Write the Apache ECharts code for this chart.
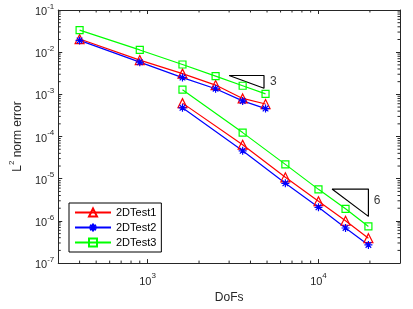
<!DOCTYPE html>
<html><head><meta charset="utf-8">
<script src="https://cdn.jsdelivr.net/npm/echarts@6/dist/echarts.min.js"></script>
<style>html,body{margin:0;padding:0;background:#fff}#c{width:413px;height:309px}</style>
</head><body><div id="c"></div>
<script>
// ---- data ----
const dofsCoarse = [400, 900, 1600, 2500, 3600, 4900];
const dofsFine = [1600, 3600, 6400, 10000, 14400, 19600];
const test1Coarse = [0.0205, 0.0065, 0.0031, 0.00166, 0.00080, 0.00059];
const test2Coarse = [0.0190, 0.0058, 0.0025, 0.00136, 0.00070, 0.00046];
const test3Coarse = [0.0334, 0.0113, 0.0051, 0.0027, 0.0016, 0.00103];
const test1Fine = [0.00062, 6.4e-5, 1.08e-5, 2.93e-6, 1.01e-6, 3.9e-7];
const test2Fine = [0.00048, 4.6e-5, 7.8e-6, 2.1e-6, 6.8e-7, 2.7e-7];
const test3Fine = [0.00129, 1.24e-4, 2.19e-5, 5.6e-6, 1.94e-6, 7.4e-7];
const slope3Tri = [[3000, 0.0028], [4800, 0.0028], [4800, 0.0014], [3000, 0.0028]];
const slope6Tri = [[12000, 5.7e-6], [19600, 5.7e-6], [19600, 1.28e-6], [12000, 5.7e-6]];
const slopeLabels = [{ value: [5450, 0.00195], text: '3' }, { value: [22000, 3.1e-6], text: '6' }];
const seriesNames = ['2DTest1', '2DTest2', '2DTest3'];
const xRange = [300, 30000];
const yRange = [1e-7, 1e-1];

const FONT = '"Liberation Sans", Arial, Helvetica, sans-serif';
const AX = '#262626';
const zip = (xs, ys) => xs.map((x, i) => [x, ys[i]]);

// minor tick positions (2..9 per decade)
function minorTicks(lo, hi) {
  const out = [];
  for (let e = Math.floor(Math.log10(lo)); e <= Math.ceil(Math.log10(hi)); e++) {
    for (let m = 2; m <= 9; m++) {
      const v = m * Math.pow(10, e);
      if (v > lo * 1.0001 && v < hi * 0.9999) out.push(v);
    }
  }
  return out;
}
const xMinor = minorTicks(xRange[0], xRange[1]);
const yMinor = minorTicks(yRange[0], yRange[1]);

const richSup = {
  b: { fontSize: 11, fontFamily: FONT, color: AX, lineHeight: 15, verticalAlign: 'bottom' },
  s: { fontSize: 8, fontFamily: FONT, color: AX, lineHeight: 15, verticalAlign: 'top' }
};
const powLabel = v => '{b|10}{s|' + Math.round(Math.log10(v)) + '}';

const red = { name: '2DTest1', color: '#FF0000', symbol: 'triangle', size: 9 };
const blue = { name: '2DTest2', color: '#0000FF',
  symbol: 'path://M0,-5L0,5M-5,0L5,0M-3.5,-3.5L3.5,3.5M-3.5,3.5L3.5,-3.5', size: 8 };
const green = { name: '2DTest3', color: '#00FF00', symbol: 'rect', size: 7 };

function lineSeries(st, data) {
  return {
    type: 'line', name: st.name, data: data, symbol: st.symbol, symbolSize: st.size,
    showSymbol: true, lineStyle: { color: st.color, width: 1.2 },
    itemStyle: { color: 'rgba(0,0,0,0)', borderColor: st.color, borderWidth: 1.2 },
    emphasis: { disabled: true }, animation: false, z: 3
  };
}

function tickSeries(data, isX) {
  return {
    type: 'custom', silent: true, animation: false, clip: false, z: 5,
    data: data.map(v => isX ? [v, 1e-4] : [1000, v]),
    renderItem: function (params, api) {
      const cs = params.coordSys;
      const p = api.coord([api.value(0), api.value(1)]);
      const L = 2.5;
      let lines;
      if (isX) {
        const x = p[0];
        lines = [[x, cs.y + cs.height, x, cs.y + cs.height - L], [x, cs.y, x, cs.y + L]];
      } else {
        const y = p[1];
        lines = [[cs.x, y, cs.x + L, y], [cs.x + cs.width, y, cs.x + cs.width - L, y]];
      }
      return { type: 'group', children: lines.map(l => ({
        type: 'line', shape: { x1: l[0], y1: l[1], x2: l[2], y2: l[3] },
        style: { stroke: AX, lineWidth: 1 } })) };
    }
  };
}

const chart = echarts.init(document.getElementById('c'), null, { renderer: 'canvas' });
chart.setOption({
  backgroundColor: '#fff',
  animation: false,
  textStyle: { fontFamily: FONT },
  grid: { left: 58, right: 13, top: 10, bottom: 45, containLabel: false },
  xAxis: [{
    type: 'log', min: xRange[0], max: xRange[1], logBase: 10,
    name: 'DoFs', nameLocation: 'middle', nameGap: 27,
    nameTextStyle: { fontSize: 12, color: AX, fontFamily: FONT },
    axisLine: { show: true, lineStyle: { color: AX, width: 1 } },
    axisTick: { show: true, inside: true, length: 4, lineStyle: { color: AX } },
    axisLabel: { formatter: powLabel, rich: richSup, margin: 9,
      showMinLabel: false, showMaxLabel: false },
    splitLine: { show: false }
  }, {
    type: 'log', min: xRange[0], max: xRange[1], logBase: 10, position: 'top',
    axisLine: { show: true, onZero: false, lineStyle: { color: AX, width: 1 } },
    axisTick: { show: true, inside: true, length: 4, lineStyle: { color: AX } },
    axisLabel: { show: false }, splitLine: { show: false }
  }],
  yAxis: [{
    type: 'log', min: yRange[0], max: yRange[1], logBase: 10,
    name: '{n|L}{s|2}{n| norm error}', nameLocation: 'middle', nameGap: 34,
    nameTextStyle: { rich: {
      n: { fontSize: 12, color: AX, fontFamily: FONT, lineHeight: 16, verticalAlign: 'bottom' },
      s: { fontSize: 8, color: AX, fontFamily: FONT, lineHeight: 16, verticalAlign: 'top' } } },
    axisLine: { show: true, lineStyle: { color: AX, width: 1 } },
    axisTick: { show: true, inside: true, length: 4, lineStyle: { color: AX } },
    axisLabel: { formatter: powLabel, rich: richSup, margin: 4 },
    splitLine: { show: false }
  }, {
    type: 'log', min: yRange[0], max: yRange[1], logBase: 10, position: 'right',
    axisLine: { show: true, onZero: false, lineStyle: { color: AX, width: 1 } },
    axisTick: { show: true, inside: true, length: 4, lineStyle: { color: AX } },
    axisLabel: { show: false }, splitLine: { show: false }
  }],
  legend: {
    data: seriesNames, orient: 'vertical', left: 69, top: 203,
    backgroundColor: '#fff', borderColor: '#000', borderWidth: 1,
    padding: [4, 5, 4, 5], itemGap: 4, itemWidth: 36, itemHeight: 10,
    textStyle: { fontSize: 11, color: '#000', fontFamily: FONT }
  },
  series: [
    lineSeries(red, zip(dofsCoarse, test1Coarse)),
    lineSeries(red, zip(dofsFine, test1Fine)),
    lineSeries(blue, zip(dofsCoarse, test2Coarse)),
    lineSeries(blue, zip(dofsFine, test2Fine)),
    lineSeries(green, zip(dofsCoarse, test3Coarse)),
    lineSeries(green, zip(dofsFine, test3Fine)),
    { type: 'line', name: 'slope3', data: slope3Tri, symbol: 'none', silent: true,
      lineStyle: { color: '#000', width: 1.2 }, animation: false },
    { type: 'line', name: 'slope6', data: slope6Tri, symbol: 'none', silent: true,
      lineStyle: { color: '#000', width: 1.2 }, animation: false },
    { type: 'scatter', name: 'slopeLabels', symbolSize: 0, silent: true, animation: false,
      data: slopeLabels.map(d => ({ value: d.value, label: { formatter: d.text } })),
      label: { show: true, position: 'inside', fontSize: 12, color: '#000', fontFamily: FONT } },
    tickSeries(xMinor, true),
    tickSeries(yMinor, false)
  ]
});
</script></body></html>
